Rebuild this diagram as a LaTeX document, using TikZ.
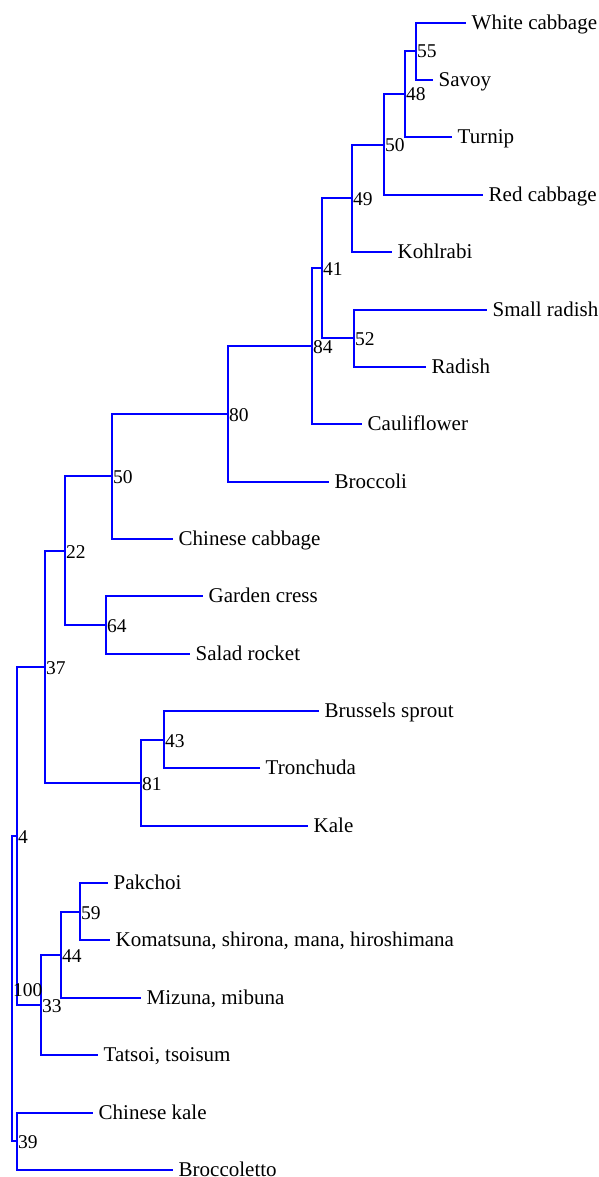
\documentclass[tikz,border=0pt]{standalone}
\usepackage{fontspec}
\setmainfont{Liberation Serif}
\begin{document}
\begin{tikzpicture}[x=1pt,y=-1pt,
  edge/.style={draw=blue, line width=2pt},
  leaf/.style={anchor=base west, inner xsep=5.5pt, inner ysep=0pt, yshift=-6.7pt, font=\fontsize{21}{24}\selectfont},
  boot/.style={anchor=base west, inner xsep=0.8pt, inner ysep=0pt, yshift=-7pt, font=\fontsize{19.5}{22}\selectfont}]
\useasboundingbox (0,0) rectangle (599,1177);
% leaf ends
\coordinate (wc) at (466,23);
\coordinate (sv) at (433,80);
\coordinate (tu) at (452,137);
\coordinate (rc) at (483,195);
\coordinate (ko) at (392,252);
\coordinate (sr) at (487,310);
\coordinate (ra) at (426,367);
\coordinate (ca) at (362,424);
\coordinate (br) at (329,482);
\coordinate (cc) at (173,539);
\coordinate (gc) at (203,596);
\coordinate (sa) at (190,654);
\coordinate (bs) at (319,711);
\coordinate (tr) at (260,768);
\coordinate (ka) at (308,826);
\coordinate (pk) at (108,883);
\coordinate (km) at (110,940);
\coordinate (mz) at (141,998);
\coordinate (ts) at (98,1055);
\coordinate (ck) at (93,1113);
\coordinate (bl) at (173,1170);
% internal nodes
\coordinate (n55) at (416,51);
\coordinate (n48) at (405,94);
\coordinate (n50a) at (384,145);
\coordinate (n49) at (352,198);
\coordinate (n52) at (354,338);
\coordinate (n41) at (322,268);
\coordinate (n84) at (312,346);
\coordinate (n80) at (228,414);
\coordinate (n50b) at (112,476);
\coordinate (n64) at (106,625);
\coordinate (n22) at (65,551);
\coordinate (n43) at (164,740);
\coordinate (n81) at (141,783);
\coordinate (n37) at (45,667);
\coordinate (n59) at (80,912);
\coordinate (n44) at (61,955);
\coordinate (n33) at (41,1005);
\coordinate (n4) at (17,836);
\coordinate (n39) at (17,1141);
\coordinate (n100) at (12,989);
% edges
\draw[edge] (n55) |- (wc); \draw[edge] (n55) |- (sv);
\draw[edge] (n48) |- (n55); \draw[edge] (n48) |- (tu);
\draw[edge] (n50a) |- (n48); \draw[edge] (n50a) |- (rc);
\draw[edge] (n49) |- (n50a); \draw[edge] (n49) |- (ko);
\draw[edge] (n52) |- (sr); \draw[edge] (n52) |- (ra);
\draw[edge] (n41) |- (n49); \draw[edge] (n41) |- (n52);
\draw[edge] (n84) |- (n41); \draw[edge] (n84) |- (ca);
\draw[edge] (n80) |- (n84); \draw[edge] (n80) |- (br);
\draw[edge] (n50b) |- (n80); \draw[edge] (n50b) |- (cc);
\draw[edge] (n64) |- (gc); \draw[edge] (n64) |- (sa);
\draw[edge] (n22) |- (n50b); \draw[edge] (n22) |- (n64);
\draw[edge] (n43) |- (bs); \draw[edge] (n43) |- (tr);
\draw[edge] (n81) |- (n43); \draw[edge] (n81) |- (ka);
\draw[edge] (n37) |- (n22); \draw[edge] (n37) |- (n81);
\draw[edge] (n59) |- (pk); \draw[edge] (n59) |- (km);
\draw[edge] (n44) |- (n59); \draw[edge] (n44) |- (mz);
\draw[edge] (n33) |- (n44); \draw[edge] (n33) |- (ts);
\draw[edge] (n4) |- (n37); \draw[edge] (n4) |- (n33);
\draw[edge] (n39) |- (ck); \draw[edge] (n39) |- (bl);
\draw[edge] (n100) |- (n4); \draw[edge] (n100) |- (n39);
% leaf labels
\node[leaf] (lwc) at (wc) {White cabbage};
\node[leaf] (lsv) at (sv) {Savoy};
\node[leaf] (ltu) at (tu) {Turnip};
\node[leaf] (lrc) at (rc) {Red cabbage};
\node[leaf] (lko) at (ko) {Kohlrabi};
\node[leaf] (lsr) at (sr) {Small radish};
\node[leaf] (lra) at (ra) {Radish};
\node[leaf] (lca) at (ca) {Cauliflower};
\node[leaf] (lbr) at (br) {Broccoli};
\node[leaf] (lcc) at (cc) {Chinese cabbage};
\node[leaf] (lgc) at (gc) {Garden cress};
\node[leaf] (lsa) at (sa) {Salad rocket};
\node[leaf] (lbs) at (bs) {Brussels sprout};
\node[leaf] (ltr) at (tr) {Tronchuda};
\node[leaf] (lka) at (ka) {Kale};
\node[leaf] (lpk) at (pk) {Pakchoi};
\node[leaf] (lkm) at (km) {Komatsuna, shirona, mana, hiroshimana};
\node[leaf] (lmz) at (mz) {Mizuna, mibuna};
\node[leaf] (lts) at (ts) {Tatsoi, tsoisum};
\node[leaf] (lck) at (ck) {Chinese kale};
\node[leaf] (lbl) at (bl) {Broccoletto};
% bootstrap labels
\node[boot] (b55) at (n55) {55};
\node[boot] (b48) at (n48) {48};
\node[boot] (b50a) at (n50a) {50};
\node[boot] (b49) at (n49) {49};
\node[boot] (b52) at (n52) {52};
\node[boot] (b41) at (n41) {41};
\node[boot] (b84) at (n84) {84};
\node[boot] (b80) at (n80) {80};
\node[boot] (b50b) at (n50b) {50};
\node[boot] (b64) at (n64) {64};
\node[boot] (b22) at (n22) {22};
\node[boot] (b43) at (n43) {43};
\node[boot] (b81) at (n81) {81};
\node[boot] (b37) at (n37) {37};
\node[boot] (b59) at (n59) {59};
\node[boot] (b44) at (n44) {44};
\node[boot] (b33) at (n33) {33};
\node[boot] (b4) at (n4) {4};
\node[boot] (b39) at (n39) {39};
\node[boot] (b100) at (n100) {100};
\end{tikzpicture}
\end{document}
